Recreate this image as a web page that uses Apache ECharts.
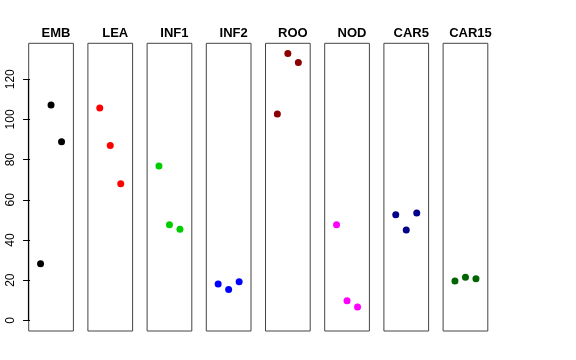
<!DOCTYPE html>
<html><head><meta charset="utf-8">
<script src="https://cdn.jsdelivr.net/npm/echarts@6/dist/echarts.min.js"></script>
<style>html,body{margin:0;padding:0;background:#fff}#c{width:576px;height:360px}</style>
</head><body><div id="c"></div>
<script>
const categories = ['EMB','LEA','INF1','INF2','ROO','NOD','CAR5','CAR15'];
const colors = ['#000000','#FF0000','#00CD00','#0000FF','#8B0000','#FF00FF','#00008B','#006400'];
const EMB = [28.2, 107.2, 88.9];
const LEA = [105.7, 87.0, 68.0];
const INF1 = [76.8, 47.6, 45.3];
const INF2 = [18.1, 15.4, 19.2];
const ROO = [102.7, 132.8, 128.3];
const NOD = [47.6, 9.8, 6.6];
const CAR5 = [52.6, 45.0, 53.4];
const CAR15 = [19.6, 21.4, 20.7];
const yTicks = [0, 20, 40, 60, 80, 100, 120];
const values = [EMB, LEA, INF1, INF2, ROO, NOD, CAR5, CAR15];

const chart = echarts.init(document.getElementById('c'), null, {renderer:'canvas'});
const grids = [], xAxes = [], yAxes = [], series = [], titles = [];
const L0 = 28.7, STEP = 59.2, W = 44.7, TOP = 43.3, H = 287.7;
const XMIN = -0.13, XMAX = 4.13;
categories.forEach((cat, i) => {
  const left = L0 + STEP * i;
  grids.push({left: left, top: TOP, width: W, height: H, show: true, borderColor: '#444', borderWidth: 1, backgroundColor: 'transparent'});
  xAxes.push({gridIndex: i, type: 'value', min: XMIN, max: XMAX, show: false});
  yAxes.push({gridIndex: i, type: 'value', min: -5.3, max: 137.9, interval: 20,
    show: i === 0, splitLine: {show: false},
    axisLine: {show: false},
    axisTick: {show: i === 0, length: 7, inside: false, lineStyle: {color: '#000'},
      customValues: yTicks},
    axisLabel: {show: i === 0, rotate: 90, margin: 12, color: '#000', fontSize: 12,
      fontFamily: 'Liberation Sans, Arial, sans-serif', customValues: yTicks,
      formatter: v => String(v)}
  });
  const s = {
    type: 'scatter', xAxisIndex: i, yAxisIndex: i, symbol: 'circle', symbolSize: 7,
    itemStyle: {color: colors[i], opacity: 1},
    data: values[i].map((v, k) => [k + 1, v]),
    silent: true, animation: false, clip: false, z: 3
  };
  if (i === 0) {
    s.markLine = {silent: true, symbol: ['none','none'], animation: false, precision: 4,
      lineStyle: {color: '#000', width: 1.2, type: 'solid', opacity: 1}, label: {show: false},
      emphasis: {disabled: true},
      data: [[{coord: [XMIN, yTicks[0]]}, {coord: [XMIN, yTicks[yTicks.length-1]]}]]};
  }
  series.push(s);
  titles.push({text: cat, left: left + W / 2, top: 22, textAlign: 'center',
    textStyle: {fontSize: 13, fontWeight: 'bold', color: '#000', fontFamily: 'Liberation Sans, Arial, sans-serif'}});
});
chart.setOption({animation: false, backgroundColor: '#fff', title: titles, grid: grids, xAxis: xAxes, yAxis: yAxes, series: series});
</script></body></html>
